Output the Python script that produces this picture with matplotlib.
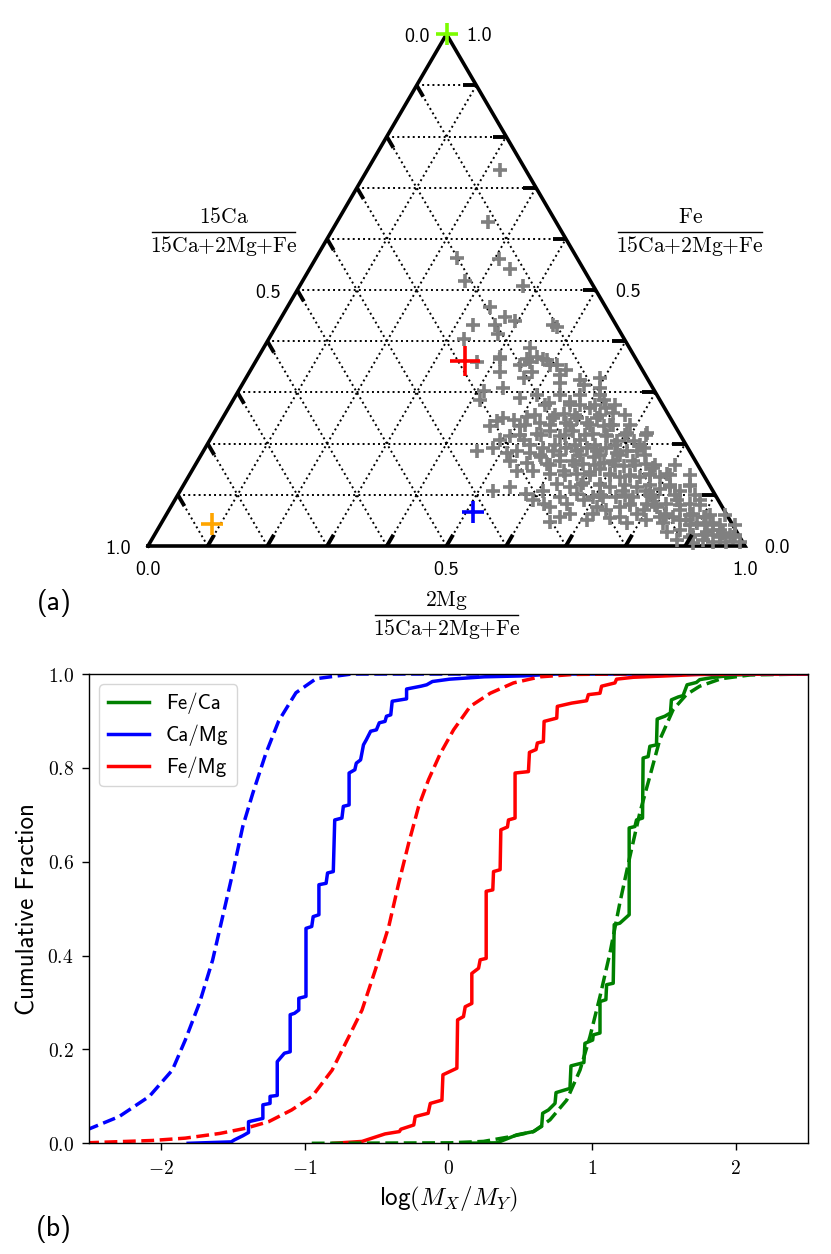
import numpy as np
import matplotlib
matplotlib.use('Agg')
import matplotlib.pyplot as plt
from matplotlib.ticker import FuncFormatter

plt.rcParams['mathtext.fontset'] = 'cm'

###############################################################################
# panel (a): galaxies in the (15Ca, 2Mg, Fe) ternary, fractions
gal_fe = [0.734, 0.634, 0.563, 0.561, 0.542, 0.518, 0.508, 0.466, 0.447, 0.440,
          0.431, 0.431, 0.415, 0.431, 0.427, 0.405, 0.386, 0.369, 0.366, 0.369,
          0.364, 0.354, 0.360,
          0.366, 0.353, 0.360, 0.366, 0.353, 0.340, 0.328, 0.340, 0.334, 0.344,
          0.318, 0.324, 0.315, 0.328, 0.308, 0.308, 0.302, 0.286, 0.289, 0.295,
          0.279, 0.282, 0.276, 0.270, 0.286, 0.270, 0.260, 0.234, 0.244, 0.250,
          0.247, 0.253, 0.234, 0.240, 0.250, 0.257, 0.240, 0.250, 0.240, 0.250,
          0.234, 0.237, 0.221, 0.221, 0.205, 0.208, 0.215, 0.208, 0.218, 0.224,
          0.215, 0.224, 0.208, 0.218, 0.215, 0.205, 0.186, 0.192, 0.182, 0.186,
          0.182, 0.192, 0.186, 0.192, 0.186, 0.192, 0.186, 0.192, 0.182, 0.186,
          0.186, 0.192, 0.166, 0.163, 0.173, 0.160, 0.166, 0.166, 0.160, 0.173,
          0.163, 0.166, 0.157, 0.166, 0.160, 0.153, 0.147, 0.147, 0.141, 0.147,
          0.141, 0.144, 0.150, 0.141, 0.134, 0.137, 0.134, 0.141, 0.134, 0.141,
          0.118, 0.108, 0.115, 0.102, 0.108, 0.121, 0.115, 0.124, 0.121, 0.115,
          0.108, 0.115, 0.108, 0.112, 0.115, 0.108, 0.089, 0.076, 0.083, 0.089,
          0.076, 0.070, 0.076, 0.083, 0.070, 0.076, 0.083, 0.089, 0.083, 0.089,
          0.047, 0.050, 0.054, 0.044, 0.050, 0.044, 0.057, 0.050, 0.044, 0.057,
          0.044, 0.028, 0.031, 0.021, 0.028, 0.031, 0.021, 0.012, 0.005, 0.008,
          0.008, 0.008, 0.018, 0.012, 0.018, 0.018,
          0.095, 0.063, 0.070, 0.063, 0.057, 0.031, 0.025, 0.050, 0.057, 0.083,
          0.063, 0.057, 0.095, 0.095, 0.095, 0.095, 0.102, 0.095, 0.083, 0.063,
          0.063, 0.057,
          0.295, 0.295, 0.295,
          0.275, 0.275, 0.275, 0.275,
          0.256, 0.256, 0.256, 0.256, 0.256,
          0.236, 0.236, 0.236, 0.236, 0.236, 0.236,
          0.217, 0.217, 0.217, 0.217, 0.217, 0.217, 0.217,
          0.197, 0.197, 0.197, 0.197, 0.197, 0.197,
          0.178, 0.178, 0.178, 0.178, 0.178, 0.178,
          0.158, 0.158, 0.158, 0.158, 0.158, 0.158, 0.158,
          0.139, 0.139, 0.139, 0.139, 0.139, 0.139, 0.139,
          0.119, 0.119, 0.119, 0.119, 0.119, 0.119,
          0.100, 0.100, 0.100, 0.100, 0.100,
          0.080, 0.080, 0.080, 0.080,
          0.061, 0.061, 0.061, 0.061,
          0.041, 0.041, 0.041, 0.041,
          0.021, 0.021, 0.021]
gal_mg = [0.223, 0.253, 0.236, 0.308, 0.335, 0.272, 0.374, 0.340, 0.374, 0.395,
          0.329, 0.366, 0.379, 0.463, 0.471, 0.326, 0.447, 0.405, 0.452, 0.467,
          0.486, 0.508, 0.371,
          0.407, 0.447, 0.460, 0.479, 0.497, 0.473, 0.465, 0.420, 0.523, 0.529,
          0.531, 0.562, 0.572, 0.593, 0.603, 0.441, 0.411, 0.413, 0.479, 0.504,
          0.532, 0.566, 0.586, 0.605, 0.620, 0.633, 0.649, 0.456, 0.462, 0.470,
          0.489, 0.508, 0.506, 0.537, 0.554, 0.568, 0.581, 0.593, 0.615, 0.627,
          0.646, 0.661, 0.692, 0.725, 0.711, 0.486, 0.499, 0.525, 0.542, 0.561,
          0.583, 0.600, 0.620, 0.637, 0.661, 0.683, 0.458, 0.482, 0.510, 0.525,
          0.549, 0.566, 0.586, 0.605, 0.625, 0.639, 0.659, 0.672, 0.694, 0.709,
          0.726, 0.734, 0.523, 0.553, 0.571, 0.588, 0.607, 0.629, 0.649, 0.660,
          0.682, 0.696, 0.718, 0.730, 0.755, 0.770, 0.545, 0.572, 0.603, 0.623,
          0.648, 0.668, 0.682, 0.704, 0.724, 0.739, 0.757, 0.771, 0.790, 0.799,
          0.849, 0.524, 0.549, 0.583, 0.608, 0.625, 0.650, 0.667, 0.697, 0.717,
          0.742, 0.762, 0.781, 0.801, 0.817, 0.837, 0.601, 0.635, 0.660, 0.685,
          0.714, 0.733, 0.753, 0.766, 0.795, 0.814, 0.827, 0.842, 0.866, 0.880,
          0.650, 0.710, 0.747, 0.780, 0.810, 0.841, 0.851, 0.877, 0.897, 0.907,
          0.925, 0.855, 0.875, 0.903, 0.922, 0.942, 0.964, 0.880, 0.910, 0.943,
          0.965, 0.987, 0.899, 0.924, 0.949, 0.971,
          0.799, 0.837, 0.856, 0.882, 0.902, 0.931, 0.951, 0.866, 0.829, 0.794,
          0.787, 0.762, 0.715, 0.737, 0.765, 0.698, 0.667, 0.643, 0.621, 0.675,
          0.714, 0.662,
          0.543, 0.576, 0.610,
          0.528, 0.570, 0.611, 0.645,
          0.520, 0.554, 0.587, 0.629, 0.671,
          0.513, 0.555, 0.589, 0.622, 0.656, 0.689,
          0.515, 0.549, 0.590, 0.624, 0.658, 0.691, 0.725,
          0.542, 0.584, 0.617, 0.651, 0.684, 0.726,
          0.568, 0.601, 0.635, 0.668, 0.702, 0.744,
          0.594, 0.636, 0.670, 0.703, 0.737, 0.770, 0.804,
          0.629, 0.671, 0.705, 0.738, 0.772, 0.805, 0.839,
          0.665, 0.698, 0.740, 0.782, 0.815, 0.849,
          0.707, 0.749, 0.791, 0.833, 0.866,
          0.767, 0.809, 0.851, 0.885,
          0.836, 0.878, 0.911, 0.936,
          0.888, 0.913, 0.938, 0.963,
          0.922, 0.948, 0.973]

# reference abundances (fe, mg) and their colours / sizes
ref_fe = [0.361, 0.066, 0.043, 1.0]
ref_mg = [0.351, 0.511, 0.085, 0.0]
ref_col = ['red', 'blue', 'orange', 'lawngreen']
ref_ms = [22, 16, 16, 16]

tern_ticklabels = [0.0, 0.5, 1.0]

###############################################################################
# panel (b): cumulative distributions of log mass ratios
feca_x = [0.10, 0.338, 0.477, 0.593, 0.650, 0.657, 0.697, 0.743, 0.750, 0.847,
          0.854, 0.944, 0.951, 1.005, 1.009, 1.056, 1.056, 1.097, 1.102, 1.148,
          1.155, 1.194, 1.259, 1.259, 1.299, 1.310, 1.352, 1.356, 1.391, 1.403,
          1.449, 1.454, 1.507, 1.546, 1.553, 1.600, 1.634, 1.662, 1.727, 1.75,
          1.85, 2.0, 2.2, 2.5]
feca_y = [0.0, 0.001, 0.018, 0.025, 0.036, 0.064, 0.071, 0.085, 0.108, 0.117,
          0.165, 0.172, 0.213, 0.220, 0.231, 0.235, 0.302, 0.306, 0.338, 0.341,
          0.466, 0.469, 0.487, 0.672, 0.675, 0.689, 0.693, 0.821, 0.824, 0.846,
          0.849, 0.904, 0.910, 0.917, 0.945, 0.951, 0.954, 0.977, 0.982, 0.988,
          0.993, 0.998, 1.0, 1.0]
camg_x = [-1.81, -1.51, -1.49, -1.43, -1.39, -1.39, -1.29, -1.29, -1.24, -1.24,
          -1.19, -1.19, -1.14, -1.10, -1.10, -1.07, -1.04, -1.04, -0.99, -0.99,
          -0.95, -0.94, -0.90, -0.90, -0.85, -0.84, -0.80, -0.79, -0.74, -0.73,
          -0.69, -0.69, -0.65, -0.64, -0.61, -0.59, -0.57, -0.54, -0.50, -0.48,
          -0.44, -0.43, -0.40, -0.39, -0.33, -0.29, -0.29, -0.19, -0.15, -0.11,
          0.01, 0.25, 0.52, 0.75, 2.5]
camg_y = [0.0, 0.003, 0.007, 0.016, 0.023, 0.046, 0.053, 0.082, 0.085, 0.100,
          0.102, 0.174, 0.192, 0.195, 0.274, 0.277, 0.284, 0.309, 0.313, 0.458,
          0.462, 0.483, 0.487, 0.551, 0.554, 0.576, 0.579, 0.689, 0.693, 0.718,
          0.721, 0.789, 0.796, 0.810, 0.817, 0.849, 0.860, 0.878, 0.881, 0.896,
          0.899, 0.910, 0.913, 0.942, 0.945, 0.947, 0.968, 0.974, 0.977, 0.984,
          0.989, 0.994, 0.996, 1.0, 1.0]
femg_x = [-0.80, -0.60, -0.44, -0.34, -0.33, -0.24, -0.23, -0.14, -0.125, -0.044,
          -0.037, 0.060, 0.065, 0.106, 0.118, 0.164, 0.164, 0.211, 0.222, 0.264,
          0.264, 0.310, 0.315, 0.361, 0.366, 0.412, 0.419, 0.465, 0.465, 0.558,
          0.565, 0.611, 0.620, 0.662, 0.667, 0.755, 0.759, 0.859, 0.963, 0.975,
          1.056, 1.067, 1.160, 1.171, 1.287, 1.52, 1.75, 2.5]
femg_y = [0.0, 0.004, 0.02, 0.025, 0.030, 0.039, 0.057, 0.064, 0.085, 0.092,
          0.146, 0.160, 0.263, 0.270, 0.291, 0.298, 0.362, 0.373, 0.391, 0.394,
          0.537, 0.540, 0.579, 0.583, 0.668, 0.674, 0.689, 0.693, 0.789, 0.792,
          0.833, 0.839, 0.853, 0.856, 0.899, 0.906, 0.931, 0.938, 0.943, 0.956,
          0.959, 0.974, 0.981, 0.989, 0.993, 0.996, 0.999, 1.0]

# model curves (dashed)
feca_mod_x = [-0.95, 0.014, 0.245, 0.43, 0.593, 0.708, 0.824, 0.917, 0.986, 1.056,
              1.125, 1.194, 1.264, 1.333, 1.403, 1.472, 1.565, 1.657, 1.75, 1.90,
              2.1, 2.5]
feca_mod_y = [0.0, 0.001, 0.004, 0.014, 0.025, 0.05, 0.092, 0.156, 0.227, 0.313,
              0.405, 0.512, 0.611, 0.704, 0.782, 0.86, 0.924, 0.956, 0.974, 0.99,
              0.998, 1.0]
camg_mod_x = [-2.52, -2.29, -2.08, -1.92, -1.83, -1.73, -1.64, -1.57, -1.50, -1.43,
              -1.36, -1.27, -1.18, -1.06, -0.92, -0.67, 2.5]
camg_mod_y = [0.028, 0.057, 0.10, 0.156, 0.22, 0.30, 0.39, 0.483, 0.576, 0.675,
              0.746, 0.83, 0.90, 0.96, 0.99, 1.0, 1.0]
femg_mod_x = [-2.52, -2.06, -1.83, -1.59, -1.41, -1.25, -1.09, -0.947, -0.808, -0.692,
              -0.600, -0.507, -0.414, -0.345, -0.275, -0.206, -0.137, -0.056, 0.037, 0.153,
              0.292, 0.454, 0.639, 0.870, 1.17, 2.5]
femg_mod_y = [0.001, 0.006, 0.011, 0.021, 0.032, 0.046, 0.071, 0.10, 0.156, 0.227,
              0.284, 0.370, 0.462, 0.554, 0.640, 0.718, 0.775, 0.830, 0.881, 0.931,
              0.959, 0.981, 0.994, 0.999, 1.0, 1.0]


S3 = np.sqrt(3.) / 2.

def tern(mg, fe):
    # (2Mg, Fe) fractions -> cartesian, 15Ca corner at origin
    mg = np.asarray(mg, dtype=float)
    fe = np.asarray(fe, dtype=float)
    return mg + fe / 2., fe * S3


def frac_label(ax, x, y, num):
    # numerator / bar / denominator, like a latex \frac
    den = r'$15\mathrm{Ca}{+}2\mathrm{Mg}{+}\mathrm{Fe}$'
    ax.text(x, y + 0.015, r'$%s$' % num, fontsize=15.5, ha='center',
            va='baseline')
    ax.text(x, y - 0.034, den, fontsize=15.5, ha='center', va='baseline')
    ax.plot([x - 0.12, x + 0.12], [y, y], 'k-', lw=1.0, clip_on=False)


fig = plt.figure(figsize=(8.31, 12.54), dpi=100)

###############################################################################
# (a) ternary
axt = fig.add_axes([89 / 831., 1 - 650 / 1254., 718.5 / 831., 650 / 1254.])
axt.set_xlim((89 - 148) / 597., (807.5 - 148) / 597.)
axt.set_ylim((546 - 650) / 591., 546 / 591.)
axt.axis('off')

grid = np.arange(1, 10) / 10.
for v in grid:
    for seg in [((0, 1 - v), (v, v)), ((v, v), (0, 1 - v)), ((1 - v, 0), (0, 1 - v))]:
        x, y = tern(seg[0], seg[1])
        axt.plot(x, y, 'k:', lw=1.4, zorder=1)

x, y = tern([0, 1, 0, 0], [0, 0, 1, 0])
axt.plot(x, y, 'k-', lw=2.6, solid_joinstyle='miter', zorder=2)

gx, gy = tern(gal_mg, gal_fe)
axt.plot(gx, gy, '+', color='gray', ms=9.5, mew=2.6, zorder=3)

# ticks, pointing inwards along the grid lines
L = 0.022
for v in grid:
    x0, y0 = tern(v, 0)
    axt.plot([x0, x0 + 0.5 * L], [y0, y0 + S3 * L], 'k-', lw=2.8,
             solid_capstyle='butt', zorder=4)
    x0, y0 = tern(1 - v, v)
    axt.plot([x0, x0 - L], [y0, y0], 'k-', lw=2.8, solid_capstyle='butt', zorder=4)
    x0, y0 = tern(0, 1 - v)
    axt.plot([x0, x0 + 0.5 * L], [y0, y0 - S3 * L], 'k-', lw=2.8,
             solid_capstyle='butt', zorder=4)

for v in tern_ticklabels:
    lab = '%.1f' % v
    x0, y0 = tern(v, 0)
    axt.text(x0, y0 - 0.040, lab, family='cmss10', fontsize=14.5,
             ha='center', va='center')
    x0, y0 = tern(1 - v, v)
    axt.text(x0 + 0.033, y0 - 0.003, lab, family='cmss10', fontsize=14.5,
             ha='left', va='center')
    x0, y0 = tern(0, 1 - v)
    axt.text(x0 - 0.028, y0 - 0.005, lab, family='cmss10', fontsize=14.5,
             ha='right', va='center')

for fe, mg, c, ms in zip(ref_fe, ref_mg, ref_col, ref_ms):
    x0, y0 = tern(mg, fe)
    axt.plot(x0, y0, '+', color=c, ms=ms, mew=2.6, zorder=5, clip_on=False)

frac_label(axt, 0.1265, 0.532, r'15\mathrm{Ca}')
frac_label(axt, 0.908, 0.532, r'\mathrm{Fe}')
frac_label(axt, 0.5, -0.1168, r'2\mathrm{Mg}')

###############################################################################
# (b) cumulative fractions
ax = fig.add_axes([89 / 831., 1 - 1143.3 / 1254., 718.5 / 831., 469.3 / 1254.])
l1, = ax.plot(feca_x, feca_y, color='green', lw=2.5, label='Fe/Ca')
l2, = ax.plot(camg_x, camg_y, color='blue', lw=2.5, label='Ca/Mg')
l3, = ax.plot(femg_x, femg_y, color='red', lw=2.5, label='Fe/Mg')
ax.plot(feca_mod_x, feca_mod_y, '--', color='green', lw=2.5)
ax.plot(camg_mod_x, camg_mod_y, '--', color='blue', lw=2.5)
ax.plot(femg_mod_x, femg_mod_y, '--', color='red', lw=2.5)

ax.set_xlim(-2.5, 2.5)
ax.set_ylim(0, 1)
ax.set_xticks([-2, -1, 0, 1, 2])
ax.set_yticks([0, 0.2, 0.4, 0.6, 0.8, 1.0])
ax.xaxis.set_major_formatter(FuncFormatter(lambda v, p: r'$%d$' % v))
ax.yaxis.set_major_formatter(FuncFormatter(lambda v, p: r'$%.1f$' % v))
ax.tick_params(labelsize=14, length=5, width=1, pad=6)
for s in ax.spines.values():
    s.set_linewidth(1.0)

ax.set_xlabel(r'log$(M_X/M_Y)$', family='cmss10', fontsize=18, labelpad=5)
ax.set_ylabel('Cumulative Fraction', family='cmss10', fontsize=18, labelpad=6)
ax.legend(handles=[l1, l2, l3], loc='upper left',
          prop={'family': 'cmss10', 'size': 15})

fig.text(54 / 831., 1 - 603 / 1254., '(a)', family='cmss10', fontsize=20,
         ha='center', va='center')
fig.text(54 / 831., 1 - 1229 / 1254., '(b)', family='cmss10', fontsize=20,
         ha='center', va='center')

fig.savefig('out.png', dpi=100)
